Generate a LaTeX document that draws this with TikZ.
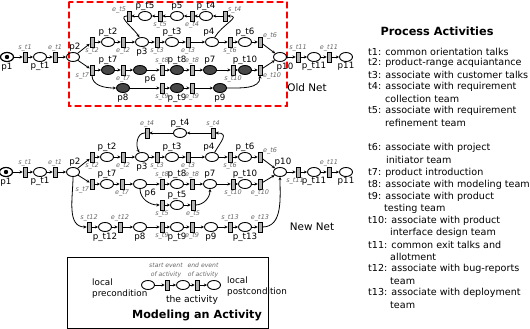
\documentclass[tikz,border=0pt]{standalone}
\usepackage{fontspec}
\setmainfont{DejaVu Sans}
\usetikzlibrary{arrows.meta,shapes.geometric}

\begin{document}
\begin{tikzpicture}[x=1pt,y=-1pt,>={Stealth[length=3.2pt,width=3pt]},line cap=round,
  place/.style={draw,ellipse,minimum width=13pt,minimum height=9pt,inner sep=0pt,line width=0.9pt},
  darkplace/.style={place,fill=black!72},
  trans/.style={draw,rectangle,fill=black!30,minimum width=4pt,minimum height=10pt,inner sep=0pt,line width=0.7pt},
  lab/.style={font=\fontsize{8.7}{9}\selectfont,inner sep=0.5pt},
  evlab/.style={font=\fontsize{6.5}{7}\selectfont\itshape,text=black!60,inner sep=0.5pt},
  pa/.style={label={[lab]above:#1}},
  pb/.style={label={[lab]below:#1}},
  ea/.style={label={[evlab]above:#1}},
  eb/.style={label={[evlab]below:#1}},
  arc/.style={->,line width=0.8pt},
  legtext/.style={font=\fontsize{9.6}{12}\selectfont,anchor=west,inner sep=0pt}]
\useasboundingbox (0,0) rectangle (530,329);

\draw[red,line width=1.2pt,dash pattern=on 6pt off 4pt] (69,2) rectangle (287,106);
\node[font=\fontsize{10.4}{12}\selectfont] (oldnet) at (307,88) {Old Net};
\node[font=\fontsize{10.4}{12}\selectfont] (newnet) at (312,227) {New Net};

\node[place,line width=1.2pt,pb=p1] (o-p1) at (7,57) {};
\fill (o-p1) circle (2.2pt);
\node[trans,ea=s\_t1] (o-st1) at (25,57) {};
\node[place,pb=p\_t1] (o-pt1) at (40,57) {};
\node[trans,ea=e\_t1] (o-et1) at (55,57) {};
\node[place,label={[lab,xshift=2pt]above:p2}] (o-p2) at (73,57) {};
\node[trans,eb=s\_t2] (o-st2) at (92,42) {};
\node[place,pa=p\_t2] (o-pt2) at (108,42) {};
\node[trans,eb=e\_t2] (o-et2) at (123,42) {};
\node[place,pb=p3] (o-p3) at (142,42) {};
\node[trans,eb=s\_t3] (o-st3) at (157,42) {};
\node[place,pa=p\_t3] (o-pt3) at (172,42) {};
\node[trans,eb=e\_t3] (o-et3) at (188,42) {};
\node[place,label={[lab,xshift=-3pt]above:p4}] (o-p4) at (212,42) {};
\node[trans,eb=s\_t6] (o-st6) at (230,42) {};
\node[place,pa=p\_t6] (o-pt6) at (245,42) {};
\node[trans,label={[evlab]above right:e\_t6}] (o-et6) at (260,42) {};
\node[place,label={[lab,xshift=5pt]below:p10}] (o-p10) at (280,57) {};
\node[trans,ea=s\_t11] (o-st11) at (298,57) {};
\node[place,pb=p\_t11] (o-pt11) at (314,57) {};
\node[trans,ea=e\_t11] (o-et11) at (329,57) {};
\node[place,pb=p11] (o-p11) at (346,57) {};

\node[trans,label={[evlab]above left:e\_t5}] (o-et5) at (129,16) {};
\node[place,pa=p\_t5] (o-pt5) at (145,16) {};
\node[trans,eb=s\_t5] (o-st5) at (160,16) {};
\node[place,pa=p5] (o-p5) at (177,16) {};
\node[trans,eb=e\_t4] (o-et4) at (192,16) {};
\node[place,pa=p\_t4] (o-pt4) at (206,16) {};
\node[trans,label={[evlab]above right:s\_t4}] (o-st4) at (225,16) {};

\node[trans,label={[evlab]below left:s\_t7}] (o-st7) at (92,70) {};
\node[darkplace,pa=p\_t7] (o-pt7) at (108,70) {};
\node[trans,eb=e\_t7] (o-et7) at (123,70) {};
\node[darkplace,label={[lab]below right:p6}] (o-p6) at (140,70) {};
\node[trans,ea=s\_t8] (o-st8) at (162,70) {};
\node[darkplace,pa=p\_t8] (o-pt8) at (177,70) {};
\node[trans,ea=e\_t8] (o-et8) at (192,70) {};
\node[darkplace,pa=p7] (o-p7) at (210,70) {};
\node[trans,eb=s\_t10] (o-st10) at (233,70) {};
\node[darkplace,pa=p\_t10] (o-pt10) at (245,70) {};
\node[trans,label={[evlab]below right:e\_t10}] (o-et10) at (260,70) {};

\node[darkplace,pb=p8] (o-p8) at (123,88) {};
\node[trans,eb=s\_t9] (o-st9) at (162,88) {};
\node[darkplace,pb=p\_t9] (o-pt9) at (177,88) {};
\node[trans,eb=e\_t9] (o-et9) at (192,88) {};
\node[darkplace,pb=p9] (o-p9) at (220,88) {};

\node[place,line width=1.2pt,pb=p1] (n-p1) at (6,172) {};
\fill (n-p1) circle (2.2pt);
\node[trans,ea=s\_t1] (n-st1) at (25,172) {};
\node[place,pb=p\_t1] (n-pt1) at (40,172) {};
\node[trans,ea=e\_t1] (n-et1) at (55,172) {};
\node[place,label={[lab,xshift=2pt]above:p2}] (n-p2) at (73,172) {};
\node[trans,eb=s\_t2] (n-st2) at (92,157) {};
\node[place,pa=p\_t2] (n-pt2) at (107,157) {};
\node[trans,eb=e\_t2] (n-et2) at (123,157) {};
\node[place,pb=p3] (n-p3) at (142,157) {};
\node[trans,eb=s\_t3] (n-st3) at (157,157) {};
\node[place,pa=p\_t3] (n-pt3) at (172,157) {};
\node[trans,eb=e\_t3] (n-et3) at (188,157) {};
\node[place,label={[lab,xshift=-3pt]above:p4}] (n-p4) at (212,157) {};
\node[trans,eb=s\_t6] (n-st6) at (230,157) {};
\node[place,pa=p\_t6] (n-pt6) at (245,157) {};
\node[trans,label={[evlab]above right:e\_t6}] (n-et6) at (260,157) {};
\node[place,label={[lab,xshift=3pt]above:p10}] (n-p10) at (280,172) {};
\node[trans,label={[evlab,xshift=-3pt]below:s\_t11}] (n-st11) at (298,172) {};
\node[place,pb=p\_t11] (n-pt11) at (314,172) {};
\node[trans,ea=e\_t11] (n-et11) at (329,172) {};
\node[place,pb=p11] (n-p11) at (346,172) {};

\node[trans,ea=e\_t4] (n-et4) at (147,133) {};
\node[place,pa=p\_t4] (n-pt4) at (180,133) {};
\node[trans,ea=s\_t4] (n-st4) at (213,133) {};

\node[trans,label={[evlab]below left:s\_t7}] (n-st7) at (92,184) {};
\node[place,pa=p\_t7] (n-pt7) at (107,184) {};
\node[trans,eb=e\_t7] (n-et7) at (122,184) {};
\node[place,label={[lab]below right:p6}] (n-p6) at (140,184) {};
\node[trans,ea=s\_t8] (n-st8) at (162,184) {};
\node[place,pa=p\_t8] (n-pt8) at (177,184) {};
\node[trans,ea=e\_t8] (n-et8) at (192,184) {};
\node[place,pa=p7] (n-p7) at (210,184) {};
\node[trans,eb=s\_t10] (n-st10) at (233,184) {};
\node[place,pa=p\_t10] (n-pt10) at (245,184) {};
\node[trans,eb=e\_t10] (n-et10) at (260,184) {};

\node[trans,eb=s\_t5] (n-st5) at (162,205) {};
\node[place,pa=p\_t5] (n-pt5) at (177,205) {};
\node[trans,eb=e\_t5] (n-et5) at (193,205) {};

\node[trans,ea=s\_t12] (n-st12) at (89,227) {};
\node[place,pb=p\_t12] (n-pt12) at (105,227) {};
\node[trans,ea=e\_t12] (n-et12) at (120,227) {};
\node[place,pb=p8] (n-p8) at (140,227) {};
\node[trans,eb=s\_t9] (n-st9) at (162,227) {};
\node[place,pb=p\_t9] (n-pt9) at (177,227) {};
\node[trans,eb=e\_t9] (n-et9) at (192,227) {};
\node[place,pb=p9] (n-p9) at (211,227) {};
\node[trans,ea=s\_t13] (n-st13) at (230,227) {};
\node[place,pb=p\_t13] (n-pt13) at (245,227) {};
\node[trans,ea=e\_t13] (n-et13) at (260,227) {};

\foreach \n in {o,n}
  \foreach \a/\b in {p1/st1,st1/pt1,pt1/et1,et1/p2,p2/st2,st2/pt2,pt2/et2,et2/p3,p3/st3,st3/pt3,
      pt3/et3,et3/p4,p4/st6,st6/pt6,pt6/et6,et6/p10,p10/st11,st11/pt11,pt11/et11,et11/p11,
      p2/st7,st7/pt7,pt7/et7,et7/p6,p6/st8,st8/pt8,pt8/et8,et8/p7,p7/st10,st10/pt10,pt10/et10,
      et10/p10,st4/pt4,pt4/et4,st5/pt5,pt5/et5,p8/st9,st9/pt9,pt9/et9,et9/p9}
    \draw[arc] (\n-\a) -- (\n-\b);
\foreach \a/\b in {et4/p5,p5/st5}
  \draw[arc] (o-\a) -- (o-\b);
\foreach \a/\b in {st12/pt12,pt12/et12,et12/p8,p9/st13,st13/pt13,pt13/et13}
  \draw[arc] (n-\a) -- (n-\b);

\draw[arc] (o-p4) to[out=60,in=0,looseness=1.5] (o-st4);
\draw[arc] (o-et5) to[out=180,in=120] (o-p3);
\draw[arc] (o-st7) to[out=-90,in=180] (o-p8);
\draw[arc] (o-p9) to[out=0,in=-90] (o-et10);

\draw[arc] (n-p4) to[out=60,in=0,looseness=1.8] (n-st4);
\draw[arc] (n-et4) to[out=180,in=120] (n-p3);
\draw[arc] (n-p6) to[out=-90,in=180] (n-st5);
\draw[arc] (n-et5) to[out=0,in=-90] (n-p7);
\draw[arc] (n-p2) to[out=-90,in=180] (n-st12);
\draw[arc] (n-et13) to[out=0,in=-90] (n-p10);

\draw[line width=1pt] (67,257) rectangle (268,328);
\node[place] (m-pre) at (148,285) {};
\node[trans] (m-st) at (167,285) {};
\node[place] (m-act) at (183,285) {};
\node[trans] (m-et) at (197,285) {};
\node[place] (m-post) at (214,285) {};
\foreach \a/\b in {pre/st,st/act,act/et,et/post}
  \draw[arc] (m-\a) -- (m-\b);
\node[font=\fontsize{8.8}{11}\selectfont,align=left,anchor=west,inner sep=0pt] (m-pretext) at (92,289) {local\\precondition};
\node[font=\fontsize{8.8}{11}\selectfont,align=left,anchor=west,inner sep=0pt] (m-posttext) at (227,287) {local\\postcondition};
\node[font=\fontsize{6.1}{9}\selectfont\itshape,text=black!60,align=center,inner sep=0pt] (m-sttext) at (166,270.5) {start event\\of activity};
\node[font=\fontsize{6.1}{9}\selectfont\itshape,text=black!60,align=center,inner sep=0pt] (m-ettext) at (203,270.5) {end event\\of activity};
\node[font=\fontsize{9.2}{11}\selectfont] (m-acttext) at (192,300) {the activity};
\node[font=\fontsize{11.2}{13}\selectfont\bfseries] (m-title) at (197,315) {Modeling an Activity};

\node[font=\fontsize{11.3}{13}\selectfont\bfseries] (legtitle) at (437,31) {Process Activities};
\foreach \x/\y/\txt [count=\i] in {368/52/{t1: common orientation talks},
    368/63/{t2: product-range acquiantance},368/75/{t3: associate with customer talks},
    368/87/{t4: associate with requirement},385/99/{collection team},
    368/111/{t5: associate with requirement},385/123/{refinement team},
    368/148/{t6: associate with project},386/160/{initiator team},
    368/173/{t7: product introduction},368/185/{t8: associate with modeling team},
    368/197/{t9: associate with product},384/209/{testing team},
    368/221/{t10: associate with product},390/233/{interface design team},
    368/245/{t11: common exit talks and},390/257/{allotment},
    368/269/{t12: associate with bug-reports},390/281/{team},
    368/293/{t13: associate with deployment},390/305/{team}}
  \node[legtext] (leg\i) at (\x,\y) {\txt};
\end{tikzpicture}
\end{document}
